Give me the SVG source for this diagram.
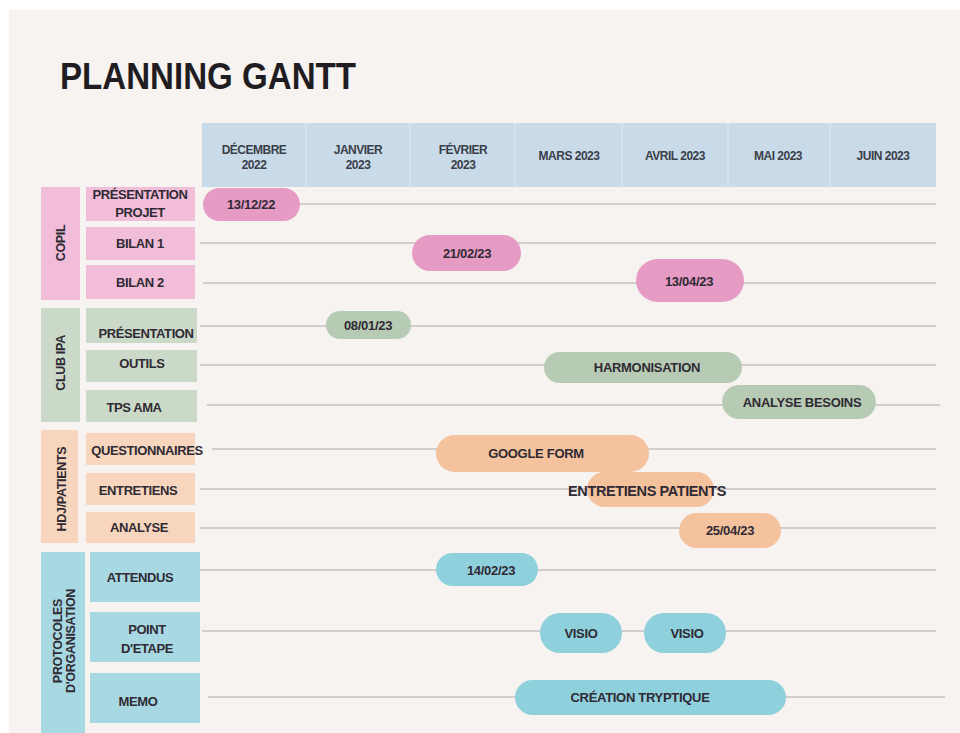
<svg xmlns="http://www.w3.org/2000/svg" width="960" height="733" viewBox="0 0 960 733">
<style>
text{font-family:"Liberation Sans",Arial,sans-serif;font-weight:bold;fill:#2f2a33;text-anchor:middle}
.title{font-size:36px;fill:#1f1d22;text-anchor:start}
.hd{font-size:12px;fill:#3a3f4a;letter-spacing:-0.5px}
.lb{font-size:13px;letter-spacing:-0.4px}
.vl{font-size:12.5px;letter-spacing:-0.3px}
.pl{font-size:13px;letter-spacing:-0.3px}
.hdr{fill:#c9dbe8}
.div{stroke:#d8e4ec;stroke-width:1.5}
.pkC{fill:#f1bdd8}.pkP{fill:#e69bc5}
.grC{fill:#cbd9c8}.grP{fill:#b7cbb4}
.orC{fill:#f8d6bd}.orP{fill:#f4c29d}
.blC{fill:#a8d8e2}.blP{fill:#8fd0dd}
.ln{stroke:#d2cecb;stroke-width:2.2;fill:none}
</style>
<rect x="0" y="0" width="960" height="733" fill="#ffffff"/>
<rect x="9" y="10" width="951" height="723" fill="#f7f3f0"/>
<text class="title" x="60" y="89" textLength="296" lengthAdjust="spacingAndGlyphs">PLANNING GANTT</text>

<g id="header">
<rect class="hdr" x="202" y="123" width="734" height="64"/>
<line class="div" x1="306" y1="123" x2="306" y2="187"/>
<line class="div" x1="410" y1="123" x2="410" y2="187"/>
<line class="div" x1="515" y1="123" x2="515" y2="187"/>
<line class="div" x1="622" y1="123" x2="622" y2="187"/>
<line class="div" x1="728" y1="123" x2="728" y2="187"/>
<line class="div" x1="830" y1="123" x2="830" y2="187"/>
<text class="hd" x="254" y="154">DÉCEMBRE</text><text class="hd" x="254" y="169">2022</text>
<text class="hd" x="358" y="154">JANVIER</text><text class="hd" x="358" y="169">2023</text>
<text class="hd" x="463" y="154">FÉVRIER</text><text class="hd" x="463" y="169">2023</text>
<text class="hd" x="569" y="160">MARS 2023</text>
<text class="hd" x="675" y="160">AVRIL 2023</text>
<text class="hd" x="778" y="160">MAI 2023</text>
<text class="hd" x="883" y="160">JUIN 2023</text>
</g>

<g id="connectors">
<line class="ln" x1="203" y1="204" x2="936" y2="204"/>
<line class="ln" x1="200" y1="243" x2="936" y2="243"/>
<line class="ln" x1="203" y1="283" x2="936" y2="283"/>
<line class="ln" x1="200" y1="326" x2="936" y2="326"/>
<line class="ln" x1="200" y1="365" x2="936" y2="365"/>
<line class="ln" x1="207" y1="405" x2="940" y2="405"/>
<line class="ln" x1="212" y1="449" x2="936" y2="449"/>
<line class="ln" x1="200" y1="489" x2="936" y2="489"/>
<line class="ln" x1="200" y1="528" x2="936" y2="528"/>
<line class="ln" x1="200" y1="570" x2="936" y2="570"/>
<line class="ln" x1="202" y1="631" x2="936" y2="631"/>
<line class="ln" x1="208" y1="697" x2="945" y2="697"/>
</g>

<g id="copil">
<rect class="pkC" x="41" y="187" width="39" height="113"/>
<text class="vl" transform="translate(65,243) rotate(-90)">COPIL</text>
</g>
<g id="row-presentation-projet">
<rect class="pkC" x="86" y="187" width="109" height="34"/>
<text class="lb" x="140" y="199">PRÉSENTATION</text><text class="lb" x="140" y="217">PROJET</text>
</g>
<g id="row-bilan1"><rect class="pkC" x="86" y="227" width="109" height="33"/><text class="lb" x="140" y="248">BILAN 1</text></g>
<g id="row-bilan2"><rect class="pkC" x="86" y="265" width="109" height="34"/><text class="lb" x="140" y="287">BILAN 2</text></g>

<g id="club-ipa">
<rect class="grC" x="41" y="308" width="39" height="114"/>
<text class="vl" transform="translate(65,363) rotate(-90)">CLUB IPA</text>
</g>
<g id="row-presentation"><rect class="grC" x="86" y="308" width="111" height="35"/><text class="lb" x="146" y="338">PRÉSENTATION</text></g>
<g id="row-outils"><rect class="grC" x="86" y="350" width="111" height="32"/><text class="lb" x="142" y="368">OUTILS</text></g>
<g id="row-tps-ama"><rect class="grC" x="86" y="390" width="111" height="32"/><text class="lb" x="134" y="412">TPS AMA</text></g>

<g id="hdj-patients">
<rect class="orC" x="41" y="430" width="37" height="113"/>
<text class="vl" transform="translate(66,489) rotate(-90)">HDJ/PATIENTS</text>
</g>
<g id="row-questionnaires"><rect class="orC" x="86" y="433" width="109" height="32"/><text class="lb" x="147" y="455">QUESTIONNAIRES</text></g>
<g id="row-entretiens"><rect class="orC" x="86" y="473" width="109" height="32"/><text class="lb" x="138" y="495">ENTRETIENS</text></g>
<g id="row-analyse"><rect class="orC" x="86" y="512" width="109" height="31"/><text class="lb" x="139" y="532">ANALYSE</text></g>

<g id="protocoles">
<rect class="blC" x="41" y="552" width="44" height="181"/>
<text class="vl" transform="translate(62,641) rotate(-90)">PROTOCOLES</text>
<text class="vl" transform="translate(75,641) rotate(-90)">D'ORGANISATION</text>
</g>
<g id="row-attendus"><rect class="blC" x="90" y="552" width="110" height="50"/><text class="lb" x="140" y="582">ATTENDUS</text></g>
<g id="row-point-etape"><rect class="blC" x="90" y="612" width="110" height="50"/><text class="lb" x="147" y="634">POINT</text><text class="lb" x="147" y="653">D'ETAPE</text></g>
<g id="row-memo"><rect class="blC" x="90" y="673" width="110" height="50"/><text class="lb" x="138" y="706">MEMO</text></g>

<g id="bar-13-12-22"><rect class="pkP" x="203" y="188" width="97" height="33" rx="16.5"/><text class="pl" x="251" y="209">13/12/22</text></g>
<g id="bar-21-02-23"><rect class="pkP" x="412" y="235" width="109" height="36" rx="18"/><text class="pl" x="467" y="258">21/02/23</text></g>
<g id="bar-13-04-23"><rect class="pkP" x="636" y="259" width="108" height="43" rx="21.5"/><text class="pl" x="689" y="286">13/04/23</text></g>
<g id="bar-08-01-23"><rect class="grP" x="326" y="311" width="85" height="28" rx="14"/><text class="pl" x="368" y="330">08/01/23</text></g>
<g id="bar-harmonisation"><rect class="grP" x="544" y="352" width="198" height="31" rx="15.5"/><text class="pl" x="647" y="372">HARMONISATION</text></g>
<g id="bar-analyse-besoins"><rect class="grP" x="722" y="385" width="154" height="34" rx="17"/><text class="pl" x="802" y="407">ANALYSE BESOINS</text></g>
<g id="bar-google-form"><rect class="orP" x="436" y="435" width="213" height="37" rx="18.5"/><text class="pl" x="536" y="458">GOOGLE FORM</text></g>
<g id="bar-entretiens-patients"><rect class="orP" x="587" y="472" width="127" height="35" rx="17.5"/><text x="647" y="496" style="font-size:14.5px;letter-spacing:-0.4px">ENTRETIENS PATIENTS</text></g>
<g id="bar-25-04-23"><rect class="orP" x="679" y="513" width="102" height="35" rx="17.5"/><text class="pl" x="730" y="535">25/04/23</text></g>
<g id="bar-14-02-23"><rect class="blP" x="436" y="553" width="102" height="33" rx="16.5"/><text class="pl" x="491" y="575">14/02/23</text></g>
<g id="bar-visio-1"><rect class="blP" x="540" y="613" width="82" height="40" rx="20"/><text class="pl" x="581" y="638">VISIO</text></g>
<g id="bar-visio-2"><rect class="blP" x="644" y="613" width="82" height="40" rx="20"/><text class="pl" x="687" y="638">VISIO</text></g>
<g id="bar-creation-tryptique"><rect class="blP" x="515" y="680" width="271" height="35" rx="17.5"/><text class="pl" x="640" y="702">CRÉATION TRYPTIQUE</text></g>
</svg>
